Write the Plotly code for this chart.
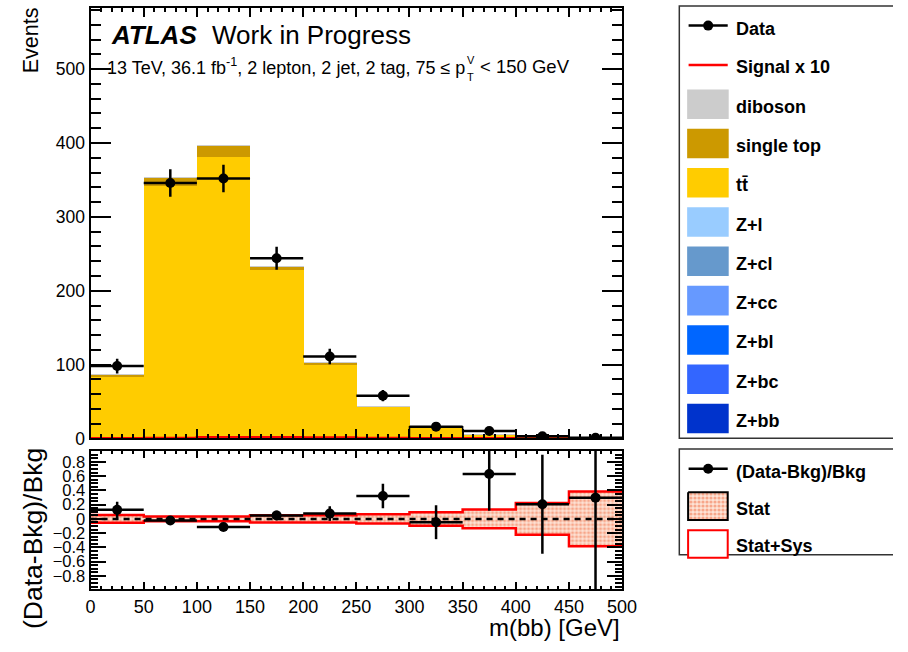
import numpy as np
import plotly.graph_objects as go

# ---------------- data ----------------
bin_edges = [0, 50, 100, 150, 200, 250, 300, 350, 400, 450, 500]
bin_centers = [25, 75, 125, 175, 225, 275, 325, 375, 425, 475]

data = [98, 346, 352, 244, 111, 58, 16, 10, 3, 1]

z_bb = [0.25, 0.35, 0.30, 0.20, 0.20, 0.10, 0.10, 0.05, 0.02, 0.01]
z_bc = [0.05, 0.06, 0.05, 0.04, 0.03, 0.02, 0.02, 0.01, 0.00, 0.00]
z_bl = [0.06, 0.08, 0.06, 0.05, 0.04, 0.03, 0.02, 0.01, 0.00, 0.00]
z_cc = [0.04, 0.05, 0.04, 0.03, 0.03, 0.02, 0.01, 0.01, 0.00, 0.00]
z_cl = [0.02, 0.03, 0.02, 0.02, 0.01, 0.01, 0.01, 0.00, 0.00, 0.00]
z_l = [0.03, 0.03, 0.03, 0.02, 0.02, 0.01, 0.01, 0.00, 0.00, 0.00]
ttbar = [83.2, 341.0, 381.2, 228.0, 99.8, 42.6, 15.7, 5.6, 2.3, 0.7]
single_top = [3.0, 12.0, 15.0, 4.0, 3.0, 1.0, 0.8, 0.4, 0.15, 0.05]
diboson = [0.30, 0.40, 0.30, 0.20, 0.20, 0.10, 0.10, 0.05, 0.02, 0.01]

signal_x10 = [0.3, 0.8, 1.5, 1.8, 1.2, 0.6, 0.3, 0.15, 0.05, 0.02]

# relative background uncertainty (half width) in the ratio panel
stat_unc = [0.050, 0.030, 0.030, 0.045, 0.045, 0.060, 0.090, 0.127, 0.217, 0.380]
statsys_unc = [0.055, 0.034, 0.034, 0.050, 0.050, 0.065, 0.095, 0.132, 0.222, 0.385]

backgrounds = [
    ("Z+bb", z_bb, "#0033cc"),
    ("Z+bc", z_bc, "#3366ff"),
    ("Z+bl", z_bl, "#0066ff"),
    ("Z+cc", z_cc, "#6699ff"),
    ("Z+cl", z_cl, "#6699cc"),
    ("Z+l", z_l, "#99ccff"),
    ("t\u0074\u0304", ttbar, "#ffcc00"),
    ("single top", single_top, "#cc9900"),
    ("diboson", diboson, "#cccccc"),
]

# ---------------- derived quantities ----------------
data_arr = np.array(data, dtype=float)
bkg_total = np.sum([np.array(v) for _, v, _ in backgrounds], axis=0)
data_err = np.sqrt(data_arr)
ratio = data_arr / bkg_total - 1.0
ratio_err = data_err / bkg_total

W, H = 908, 652
FONT = "Liberation Sans, Arial, Helvetica, sans-serif"
BAND_PATTERN = dict(shape=".", fgcolor="#f26a3d", bgcolor="#fde3d6", size=4, solidity=0.5)

def px_x(p):
    return p / W

def px_y(p):
    return 1 - p / H

fig = go.Figure()

# stacked background histogram
for name, vals, col in backgrounds:
    fig.add_trace(go.Bar(
        x=bin_centers, y=vals, width=50, marker=dict(color=col, line=dict(width=0)),
        name=name, xaxis="x", yaxis="y", showlegend=False,
    ))

# signal x 10
fig.add_trace(go.Scatter(
    x=bin_edges, y=signal_x10 + [signal_x10[-1]], mode="lines", line_shape="hv",
    line=dict(color="#ff0000", width=2.5), xaxis="x", yaxis="y", showlegend=False,
))

# data outline in the tail bins
tail = 6
fig.add_trace(go.Scatter(
    x=[bin_edges[tail]] + [e for e in bin_edges[tail:]] + [bin_edges[-1]],
    y=[0] + data[tail:] + [data[-1], 0],
    mode="lines", line_shape="hv", line=dict(color="black", width=1.5),
    xaxis="x", yaxis="y", showlegend=False,
))

# data points
fig.add_trace(go.Scatter(
    x=bin_centers, y=data, mode="markers",
    marker=dict(color="black", size=10),
    error_y=dict(type="data", array=data_err, color="black", thickness=2.5, width=0),
    error_x=dict(type="constant", value=25, color="black", thickness=2.5, width=0),
    xaxis="x", yaxis="y", showlegend=False,
))

# ---------------- ratio panel ----------------
up = []
lo = []
xs = []
for i in range(len(bin_centers)):
    xs += [bin_edges[i], bin_edges[i + 1]]
    up += [stat_unc[i], stat_unc[i]]
    lo += [-stat_unc[i], -stat_unc[i]]

fig.add_trace(go.Scatter(
    x=xs + xs[::-1], y=up + lo[::-1], mode="lines", fill="toself",
    line=dict(width=0, color="rgba(0,0,0,0)"),
    fillcolor="rgba(0,0,0,0)", fillpattern=BAND_PATTERN,
    xaxis="x2", yaxis="y2", showlegend=False,
))

for sgn in (1, -1):
    fig.add_trace(go.Scatter(
        x=bin_edges, y=[sgn * v for v in statsys_unc] + [sgn * statsys_unc[-1]],
        mode="lines", line_shape="hv", line=dict(color="#ff0000", width=2.5),
        xaxis="x2", yaxis="y2", showlegend=False,
    ))

fig.add_trace(go.Scatter(
    x=[0, 500], y=[0, 0], mode="lines",
    line=dict(color="black", width=2.5, dash="6px,5px"),
    xaxis="x2", yaxis="y2", showlegend=False,
))

fig.add_trace(go.Scatter(
    x=bin_centers, y=ratio, mode="markers",
    marker=dict(color="black", size=10),
    error_y=dict(type="data", array=ratio_err, color="black", thickness=2.5, width=0),
    error_x=dict(type="constant", value=25, color="black", thickness=2.5, width=0),
    xaxis="x2", yaxis="y2", showlegend=False, cliponaxis=True,
))

# ---------------- legends (drawn in a pixel-space overlay) ----------------
shapes = []
annotations = []

def legend_text(x, y, text, size=18):
    annotations.append(dict(
        x=x, y=y, xref="x3", yref="y3", text="<b>%s</b>" % text, showarrow=False,
        xanchor="left", yanchor="middle", font=dict(family=FONT, size=size, color="black"),
    ))

# main legend frame
shapes.append(dict(type="rect", xref="x3", yref="y3", x0=689.5, x1=912, y0=6, y1=445,
                   line=dict(color="#333333", width=1.5), fillcolor="rgba(0,0,0,0)"))
row0 = 26
step = 39.9
tx = 745
# Data
fig.add_trace(go.Scatter(x=[699, 739], y=[row0, row0], mode="lines", line=dict(color="black", width=2.5),
                         xaxis="x3", yaxis="y3", showlegend=False))
fig.add_trace(go.Scatter(x=[719], y=[row0], mode="markers", marker=dict(color="black", size=10),
                         xaxis="x3", yaxis="y3", showlegend=False))
legend_text(tx, row0 + 3, "Data")
# Signal
r = row0 + step
fig.add_trace(go.Scatter(x=[699, 739], y=[r, r], mode="lines", line=dict(color="#ff0000", width=2.5),
                         xaxis="x3", yaxis="y3", showlegend=False))
legend_text(tx, r + 2.5, "Signal x 10")
# backgrounds, top of the stack first
for k, (name, vals, col) in enumerate(backgrounds[::-1]):
    r = row0 + step * (k + 2)
    shapes.append(dict(type="rect", xref="x3", yref="y3", x0=697.5, x1=740, y0=r - 15, y1=r + 15,
                       line=dict(width=0), fillcolor=col))
    legend_text(tx, r + 2.5, name)

# ratio legend frame
shapes.append(dict(type="rect", xref="x3", yref="y3", x0=689.5, x1=912, y0=456, y1=563.5,
                   line=dict(color="#333333", width=1.5), fillcolor="rgba(0,0,0,0)"))
r = 476
fig.add_trace(go.Scatter(x=[699, 739], y=[r, r], mode="lines", line=dict(color="black", width=2.5),
                         xaxis="x3", yaxis="y3", showlegend=False))
fig.add_trace(go.Scatter(x=[719], y=[r], mode="markers", marker=dict(color="black", size=10),
                         xaxis="x3", yaxis="y3", showlegend=False))
legend_text(tx, r + 3, "(Data-Bkg)/Bkg")
r = 514
fig.add_trace(go.Scatter(x=[698.5, 739, 739, 698.5, 698.5], y=[r - 14, r - 14, r + 14, r + 14, r - 14],
                         mode="lines", fill="toself", line=dict(color="black", width=2),
                         fillcolor="rgba(0,0,0,0)", fillpattern=BAND_PATTERN,
                         xaxis="x3", yaxis="y3", showlegend=False))
legend_text(tx, r + 2.5, "Stat")
r = 552.5
shapes.append(dict(type="rect", xref="x3", yref="y3", x0=698.5, x1=739, y0=r - 14, y1=r + 14,
                   line=dict(color="#ff0000", width=2), fillcolor="white"))
legend_text(tx, r + 2.5, "Stat+Sys")

# ---------------- labels ----------------
annotations.append(dict(x=106, y=36, xref="x3", yref="y3", text="<b><i>ATLAS</i></b>", showarrow=False,
                        xanchor="left", yanchor="middle", font=dict(family=FONT, size=26, color="black")))
annotations.append(dict(x=210, y=36, xref="x3", yref="y3", text="Work in Progress", showarrow=False,
                        xanchor="left", yanchor="middle", font=dict(family=FONT, size=26, color="black")))
annotations.append(dict(x=102, y=68, xref="x3", yref="y3",
                        text="13 TeV, 36.1 fb<sup>-1</sup>, 2 lepton, 2 jet, 2 tag, 75 \u2264 p",
                        showarrow=False, xanchor="left", yanchor="middle",
                        font=dict(family=FONT, size=18, color="black")))
annotations.append(dict(x=476, y=61, xref="x3", yref="y3", text="V", showarrow=False,
                        xanchor="center", yanchor="middle", font=dict(family=FONT, size=11, color="black")))
annotations.append(dict(x=476, y=78, xref="x3", yref="y3", text="T", showarrow=False,
                        xanchor="center", yanchor="middle", font=dict(family=FONT, size=11, color="black")))
annotations.append(dict(x=484, y=68, xref="x3", yref="y3", text="< 150 GeV", showarrow=False,
                        xanchor="left", yanchor="middle", font=dict(family=FONT, size=18.5, color="black")))

annotations.append(dict(x=26, y=5, xref="x3", yref="y3", text="Events", textangle=-90, showarrow=False,
                        xanchor="center", yanchor="top", font=dict(family=FONT, size=21.5, color="black")))
annotations.append(dict(x=28, y=547, xref="x3", yref="y3", text="(Data-Bkg)/Bkg", textangle=-90,
                        showarrow=False, xanchor="center", yanchor="middle",
                        font=dict(family=FONT, size=26.5, color="black")))
annotations.append(dict(x=631, y=637, xref="x3", yref="y3", text="m(bb) [GeV]", showarrow=False,
                        xanchor="right", yanchor="middle", font=dict(family=FONT, size=24, color="black")))

# ---------------- axes ----------------
x_dom = [px_x(87.5), px_x(631)]
main_dom = [px_y(445.3), px_y(8)]
ratio_dom = [px_y(598.3), px_y(457.7)]

axis_common = dict(showline=True, linecolor="black", linewidth=2, mirror="allticks", ticks="inside",
                   tickcolor="black", tickwidth=2, showgrid=False, zeroline=False)

fig.update_layout(
    width=W, height=H,
    margin=dict(l=0, r=0, t=0, b=0),
    paper_bgcolor="white", plot_bgcolor="rgba(0,0,0,0)",
    barmode="stack", bargap=0,
    showlegend=False,
    xaxis=dict(domain=x_dom, range=[0, 500], anchor="y", showticklabels=False, dtick=50, ticklen=9,
               minor=dict(dtick=10, ticklen=4.5, ticks="inside", tickcolor="black", tickwidth=1.5),
               matches="x2", **axis_common),
    yaxis=dict(domain=main_dom, range=[0, 583], anchor="x", dtick=100, ticklen=20,
               minor=dict(dtick=20, ticklen=10, ticks="inside", tickcolor="black", tickwidth=1.5),
               tickfont=dict(family=FONT, size=17.5, color="black"), **axis_common),
    xaxis2=dict(domain=x_dom, range=[0, 500], anchor="y2", dtick=50, ticklen=7,
                minor=dict(dtick=10, ticklen=3.5, ticks="inside", tickcolor="black", tickwidth=1.5),
                tickfont=dict(family=FONT, size=18, color="black"), **axis_common),
    yaxis2=dict(domain=ratio_dom, range=[-0.986, 0.958], anchor="x2",
                tickvals=[-0.8, -0.6, -0.4, -0.2, 0, 0.2, 0.4, 0.6, 0.8],
                ticktext=["\u22120.8", "\u22120.6", "\u22120.4", "\u22120.2", "0", "0.2", "0.4", "0.6", "0.8"],
                ticklen=15,
                minor=dict(dtick=0.05, ticklen=7, ticks="inside", tickcolor="black", tickwidth=1.5),
                tickfont=dict(family=FONT, size=16.5, color="black"), **axis_common),
    xaxis3=dict(domain=[0, 1], range=[0, W], anchor="y3", visible=False, fixedrange=True),
    yaxis3=dict(domain=[0, 1], range=[H, 0], anchor="x3", visible=False, fixedrange=True),
    shapes=shapes,
    annotations=annotations,
)

fig.write_html("out.html")
